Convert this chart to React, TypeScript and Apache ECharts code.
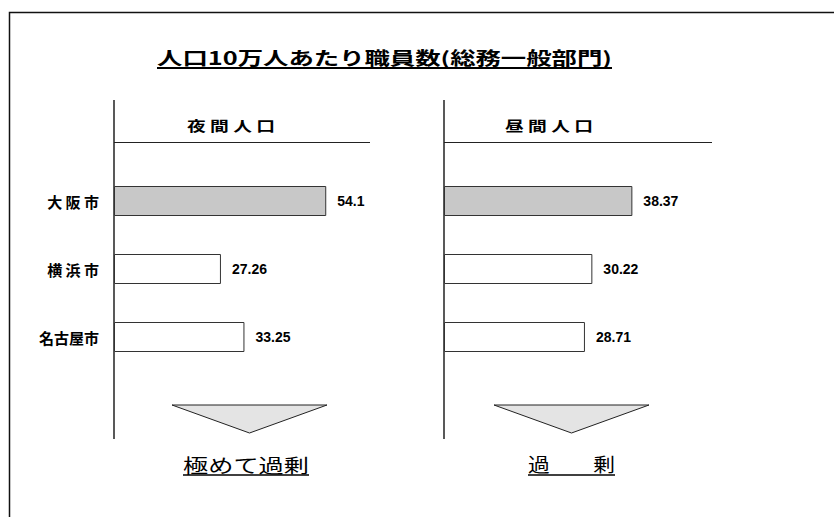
import React, { useEffect, useRef } from "react";
import * as echarts from "echarts";

const chartTitle = "人口10万人あたり職員数(総務一般部門)";
const categories = ["大 阪 市", "横 浜 市", "名古屋市"];
const nightValues = [54.1, 27.26, 33.25];
const dayValues = [38.37, 30.22, 28.71];
const panelHeaders = ["夜 間 人 口", "昼 間 人 口"];
const verdicts = ["極めて過剰", "過　　剰"];

const CJK = '"Noto Sans CJK JP", "Noto Sans CJK SC", sans-serif';
const NUM = '"Liberation Sans", Arial, sans-serif';

function measure(text: string, size: number, weight: string) {
  const c = document.createElement("canvas").getContext("2d");
  if (!c) return text.length * size;
  c.font = `${weight} ${size}px ${CJK}`;
  return c.measureText(text).width || text.length * size;
}

function scaledText(text: string, cx: number, cy: number, size: number, weight: string, targetW: number) {
  const w = measure(text, size, weight);
  return {
    type: "text",
    x: cx,
    y: cy,
    scaleX: targetW / w,
    style: {
      text,
      fill: "#000",
      fontSize: size,
      fontWeight: weight,
      fontFamily: CJK,
      align: "center",
      verticalAlign: "middle",
      textAlign: "center",
      textVerticalAlign: "middle",
    },
  };
}

function barData(values: number[]) {
  return values.map((v, i) => ({
    value: v,
    itemStyle: { color: i === 0 ? "#c8c8c8" : "#ffffff" },
  }));
}

export default function App() {
  const ref = useRef<HTMLDivElement>(null);
  useEffect(() => {
    if (!ref.current) return;
    const chart = echarts.init(ref.current, undefined, { renderer: "svg" });
    const labelStyle = {
      show: true,
      position: "right",
      distance: 11,
      color: "#000",
      fontFamily: NUM,
      fontWeight: "bold",
      fontSize: 14,
    };
    const line = (x1: number, y1: number, x2: number, y2: number, w: number, c = "#222") => ({
      type: "line",
      shape: { x1, y1, x2, y2 },
      style: { stroke: c, lineWidth: w },
      silent: true,
    });
    const tri = (x1: number, x2: number, top: number, bottom: number) => ({
      type: "polygon",
      shape: { points: [[x1, top], [x2, top], [(x1 + x2) / 2, bottom]] },
      style: { fill: "#e4e4e4", stroke: "#222", lineWidth: 1 },
    });
    chart.setOption({
      animation: false,
      backgroundColor: "#fff",
      grid: [
        { left: 114, top: 167, width: 255, height: 204 },
        { left: 444, top: 167, width: 270, height: 204 },
      ],
      xAxis: [
        { type: "value", gridIndex: 0, min: 0, max: 65, show: false },
        { type: "value", gridIndex: 1, min: 0, max: 55, show: false },
      ],
      yAxis: [
        {
          type: "category",
          gridIndex: 0,
          data: categories,
          inverse: true,
          axisLine: { show: false },
          axisTick: { show: false },
          axisLabel: {
            margin: 15,
            color: "#000",
            fontFamily: CJK,
            fontWeight: "bold",
            fontSize: 15,
          },
        },
        {
          type: "category",
          gridIndex: 1,
          data: categories,
          inverse: true,
          axisLine: { show: false },
          axisTick: { show: false },
          axisLabel: { show: false },
        },
      ],
      series: [
        {
          type: "bar",
          xAxisIndex: 0,
          yAxisIndex: 0,
          data: barData(nightValues),
          barWidth: 30,
          itemStyle: { borderColor: "#333", borderWidth: 1 },
          label: labelStyle,
        },
        {
          type: "bar",
          xAxisIndex: 1,
          yAxisIndex: 1,
          data: barData(dayValues),
          barWidth: 30,
          itemStyle: { borderColor: "#333", borderWidth: 1 },
          label: labelStyle,
        },
      ],
      graphic: [
        {
          type: "rect",
          shape: { x: 9.5, y: 12.5, width: 900, height: 600 },
          style: { fill: "none", stroke: "#111", lineWidth: 1.5 },
          silent: true,
        },
        scaledText(chartTitle, 384.5, 57, 18, "bold", 455),
        line(157, 68, 612, 68, 2, "#000"),
        line(114, 100, 114, 439, 1.5),
        line(444, 100, 444, 439, 1.5),
        line(114, 142.5, 370, 142.5, 1),
        line(444, 142.5, 712, 142.5, 1),
        scaledText(panelHeaders[0], 231, 125, 14, "bold", 88),
        scaledText(panelHeaders[1], 549, 125, 14, "bold", 88),
        tri(172, 327, 405, 433),
        tri(494, 649, 405, 433),
        scaledText(verdicts[0], 246, 464, 19, "normal", 126),
        line(183, 475, 309, 475, 1.5, "#000"),
        scaledText(verdicts[1], 571.5, 464, 19, "normal", 87),
        line(528, 475, 615, 475, 1.5, "#000"),
      ],
    });
    return () => chart.dispose();
  }, []);
  return (
    <div
      ref={ref}
      style={{ position: "fixed", left: 0, top: 0, width: 834, height: 517 }}
    />
  );
}
